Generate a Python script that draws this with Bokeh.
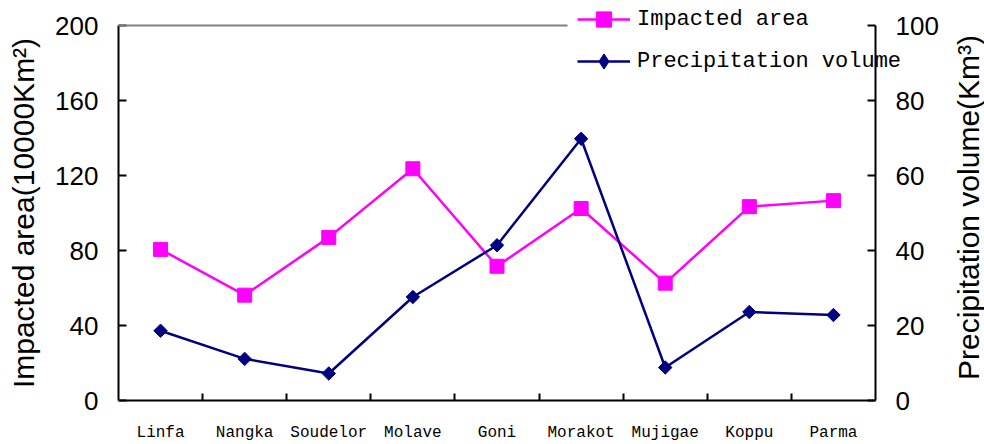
import math
from bokeh.plotting import figure
from bokeh.models import (Range1d, LinearAxis, FixedTicker, Legend, LegendItem,
                          ColumnDataSource, Label)
from bokeh.embed import file_html
from bokeh.resources import INLINE

storms = ["Linfa", "Nangka", "Soudelor", "Molave", "Goni", "Morakot", "Mujigae", "Koppu", "Parma"]
area = [80.6, 56.2, 87.0, 123.6, 71.6, 102.4, 62.6, 103.4, 106.6]
precip = [18.6, 11.1, 7.2, 27.6, 41.4, 69.8, 8.8, 23.6, 22.8]
left_ticks = [0, 40, 80, 120, 160, 200]
right_ticks = [0, 20, 40, 60, 80, 100]
series_names = ["Impacted area", "Precipitation volume"]
left_title = "Impacted area(10000Km\u00b2)"
right_title = "Precipitation volume(Km\u00b3)"

W, H = 984, 444
FL, FR, FT, FB = 118, 875, 25, 402   # frame edges in pixels
MAG = "#FF00FF"
NAVY = "#000080"
TICK_FONT = "Liberation Sans"
NAN = float("nan")

xs = [i + 0.5 for i in range(len(storms))]
src = ColumnDataSource(dict(x=xs, area=area, precip=precip))

p = figure(width=W, height=H, output_backend="svg", toolbar_location=None,
           x_range=Range1d(0, len(storms)), y_range=Range1d(0, 200),
           min_border_left=FL, min_border_right=W - FR, min_border_top=FT,
           min_border_bottom=H - FB)
p.extra_y_ranges = {"precip": Range1d(0, 100)}
p.xgrid.visible = False
p.ygrid.visible = False
p.outline_line_color = None
p.background_fill_color = "white"
p.border_fill_color = "white"

# x axis
xa = p.xaxis[0]
xa.ticker = FixedTicker(ticks=xs, minor_ticks=list(range(1, len(storms))))
xa.major_label_overrides = {x: s for x, s in zip(xs, storms)}
xa.major_tick_line_color = None
xa.minor_tick_in = 7
xa.minor_tick_out = 0
xa.minor_tick_line_width = 2
xa.axis_line_width = 2
xa.axis_line_color = "black"
xa.major_label_text_font = "Liberation Mono"
xa.major_label_text_font_size = "16px"
xa.major_label_text_color = "black"
xa.major_label_standoff = 17

# left axis
ya = p.yaxis[0]
ya.ticker = FixedTicker(ticks=left_ticks)
ya.minor_tick_line_color = None
ya.major_tick_in = 8
ya.major_tick_out = 0
ya.major_tick_line_width = 2
ya.axis_line_width = 2
ya.axis_line_color = "black"
ya.major_label_text_font = TICK_FONT
ya.major_label_text_font_size = "26px"
ya.major_label_text_color = "black"
ya.major_label_standoff = 20
ya.axis_label = left_title
ya.axis_label_text_font = TICK_FONT
ya.axis_label_text_font_size = "30px"
ya.axis_label_text_font_style = "normal"
ya.axis_label_text_color = "black"
ya.axis_label_standoff = 12

# right axis
ra = LinearAxis(y_range_name="precip", ticker=FixedTicker(ticks=right_ticks))
ra.minor_tick_line_color = None
ra.major_tick_in = 8
ra.major_tick_out = 0
ra.major_tick_line_width = 2
ra.axis_line_width = 2
ra.axis_line_color = "black"
ra.major_label_text_font = TICK_FONT
ra.major_label_text_font_size = "26px"
ra.major_label_text_color = "black"
ra.major_label_standoff = 20
p.add_layout(ra, "right")

p.line("x", "area", source=src, line_color=MAG, line_width=2.5)
p.scatter("x", "area", source=src, marker="square", size=14,
          fill_color=MAG, line_color=MAG)
p.line("x", "precip", source=src, y_range_name="precip", line_color=NAVY, line_width=2.5)
p.scatter("x", "precip", source=src, y_range_name="precip", marker="square",
          angle=math.pi / 4, size=9.5, fill_color=NAVY, line_color=NAVY)

# transparent overlay figure (pixel coordinates, absolutely positioned on top of p)
p2 = figure(width=W, height=H, output_backend="svg", toolbar_location=None,
            x_range=Range1d(0, W), y_range=Range1d(H, 0),
            x_axis_type=None, y_axis_type=None, min_border=0,
            styles={"position": "absolute", "top": "0px", "left": "0px"})
p2.xgrid.visible = False
p2.ygrid.visible = False
p2.outline_line_color = None
p2.background_fill_color = None
p2.border_fill_color = None
p2.background_fill_alpha = 0
p2.border_fill_alpha = 0

# grey top border of the plot area, stopping where the legend begins
p2.segment(x0=[FL], y0=[FT], x1=[567], y1=[FT], line_color="#808080", line_width=2)

# legend-only renderers (no visible data)
g1 = p2.line([NAN], [NAN], line_color=MAG, line_width=2.5)
g1m = p2.scatter([NAN], [NAN], marker="square", fill_color=MAG, line_color=MAG)
g2 = p2.line([NAN], [NAN], line_color=NAVY, line_width=2.5)
g2m = p2.scatter([NAN], [NAN], marker="diamond", fill_color=NAVY, line_color=NAVY)

legend = Legend(items=[LegendItem(label=series_names[0], renderers=[g1, g1m]),
                       LegendItem(label=series_names[1], renderers=[g2, g2m])],
                location=(577, H - 80), orientation="vertical")
legend.label_text_font = "Liberation Mono"
legend.label_text_font_size = "22px"
legend.label_text_color = "black"
legend.glyph_width = 53
legend.glyph_height = 38
legend.label_height = 38
legend.label_standoff = 7
legend.spacing = 4
legend.padding = 0
legend.margin = 0
legend.border_line_color = None
legend.background_fill_alpha = 0
p2.add_layout(legend, "center")

p2.add_layout(Label(x=968, y=H - 207, x_units="screen", y_units="screen",
                    text=right_title, angle=math.pi / 2,
                    text_align="center", text_baseline="middle",
                    text_font=TICK_FONT, text_font_size="30px", text_color="black"))

open("out.html", "w").write(file_html([p, p2], INLINE))
